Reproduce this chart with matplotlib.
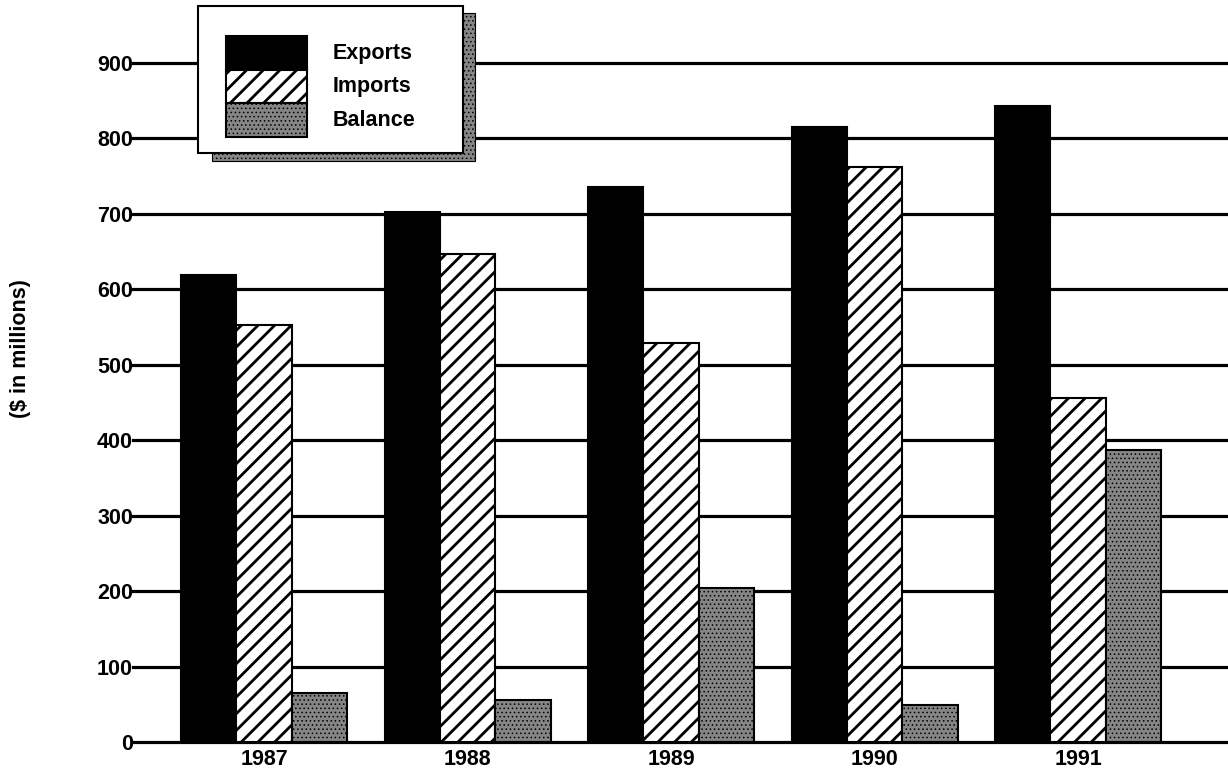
import matplotlib
matplotlib.use("Agg")
import matplotlib.pyplot as plt
from matplotlib.patches import Rectangle
import numpy as np

years = ["1987", "1988", "1989", "1990", "1991"]
exports = [619, 702, 736, 815, 843]
imports = [553, 647, 529, 762, 456]
balance = [65, 56, 204, 49, 387]
yticks = [0, 100, 200, 300, 400, 500, 600, 700, 800, 900]

plt.rcParams["font.family"] = ["Liberation Sans", "DejaVu Sans"]
plt.rcParams["font.weight"] = "bold"
plt.rcParams["hatch.linewidth"] = 2.0

W, H = 1228, 776
fig = plt.figure(figsize=(W / 100, H / 100), dpi=100)
ax = fig.add_axes([133 / W, 1 - 742 / H, 1 - 133 / W, (742 - 63) / H])

x = np.arange(len(years))
w = 0.272
STIP_FC = "#858585"


def dotted(p, lw=0.6):
    if hasattr(p, "set_hatch_linewidth"):
        p.set_hatch_linewidth(lw)


ax.bar(x - w, exports, w, color="black", edgecolor="black", linewidth=1.5, zorder=3)
ax.bar(x, imports, w, color="white", edgecolor="black", linewidth=1.5,
       hatch="//", zorder=3)
with plt.rc_context({"hatch.linewidth": 0.6}):
    bb = ax.bar(x + w, balance, w, color=STIP_FC, edgecolor="black",
                linewidth=1.5, hatch="....", zorder=3)
for p in bb:
    dotted(p)

ax.set_xlim(-0.644, 4.737)
ax.set_ylim(0, 900)
ax.set_yticks(yticks)
ax.set_xticks(x)
ax.set_xticklabels(years)
ax.tick_params(axis="both", length=0, labelsize=15.5)
ax.tick_params(axis="y", pad=0)
ax.tick_params(axis="x", pad=5)
for s in ax.spines.values():
    s.set_visible(False)
ax.set_axisbelow(True)
ax.yaxis.grid(True, color="black", linewidth=2.3)
for gl in ax.get_ygridlines():
    gl.set_clip_on(False)

fig.text(21 / W, 1 - 349 / H, "($ in millions)", rotation=90,
         ha="center", va="center", fontsize=15.5, fontweight="bold")

# legend box drawn in pixel space
lax = fig.add_axes([0, 0, 1, 1], zorder=10)
lax.set_xlim(0, W)
lax.set_ylim(H, 0)
lax.axis("off")
lax.patch.set_alpha(0)

with plt.rc_context({"hatch.linewidth": 0.6}):
    sh = Rectangle((212, 13), 263, 148, facecolor=STIP_FC, edgecolor="black",
                   linewidth=0.8, hatch="....")
lax.add_patch(sh)
dotted(sh)
lax.add_patch(Rectangle((198, 6), 265, 147, facecolor="white",
                        edgecolor="black", linewidth=1.5))

labels = ["Exports", "Imports", "Balance"]
sw_top = [36, 70, 103]
sw_h = [34, 33, 34]
lax.add_patch(Rectangle((226, sw_top[0]), 81, sw_h[0], facecolor="black",
                        edgecolor="black", linewidth=1.5))
lax.add_patch(Rectangle((226, sw_top[1]), 81, sw_h[1], facecolor="white",
                        edgecolor="black", linewidth=1.5, hatch="//"))
with plt.rc_context({"hatch.linewidth": 0.6}):
    lp = Rectangle((226, sw_top[2]), 81, sw_h[2], facecolor=STIP_FC,
                   edgecolor="black", linewidth=1.5, hatch="....")
lax.add_patch(lp)
dotted(lp)
for lab, t, h in zip(labels, sw_top, sw_h):
    lax.text(333, t + h / 2, lab, ha="left", va="center", fontsize=15.5,
             fontweight="bold")

fig.savefig("out.png", dpi=100)
